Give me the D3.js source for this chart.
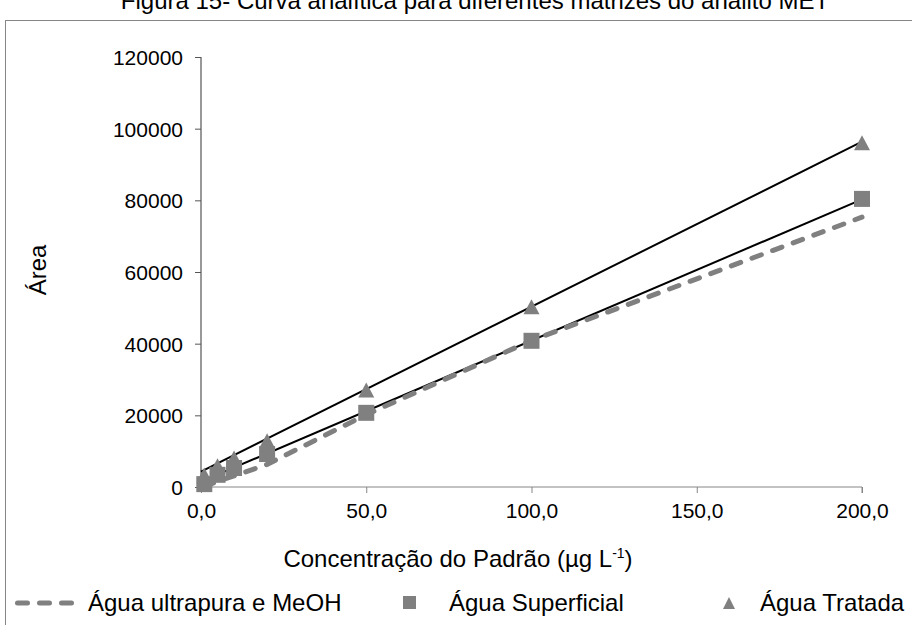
<!DOCTYPE html>
<html>
<head>
<meta charset="utf-8">
<script src="https://cdn.jsdelivr.net/npm/d3@7"></script>
<style>
  html, body { margin: 0; padding: 0; background: #fff; }
  svg { display: block; font-family: "Liberation Sans", Arial, sans-serif; }
</style>
</head>
<body>
<svg id="chart" width="912" height="625"></svg>
<script>
// Concentrations of the standard (µg L-1)
const concentrations = [1, 5, 10, 20, 50, 100, 200];
// Peak areas per matrix
const ultrapuraValues = [100, 1600, 3100, 6300, 20200, 40900, 75300];
const superficialValues = [800, 3400, 5300, 9200, 20700, 40800, 80400];
const tratadaValues = [3350, 5900, 8100, 12900, 27100, 50300, 96100];
// Least-squares lines drawn over the two marker series
const superficialFit = { intercept: 1480, slope: 394 };
const tratadaFit = { intercept: 4270, slope: 460.6 };

const xTicks = [0, 50, 100, 150, 200];
const yTicks = [0, 20000, 40000, 60000, 80000, 100000, 120000];

const title = "Figura 15- Curva analítica para diferentes matrizes do analito MET";
const seriesNames = ["Água ultrapura e MeOH", "Água Superficial", "Água Tratada"];

const svg = d3.select("#chart");
const grey = "#868686";
const markerGrey = "#808080";
const font = "Liberation Sans, Arial, sans-serif";

const plot = { left: 201, right: 862, top: 57, bottom: 487 };
const x = d3.scaleLinear().domain([0, 200]).range([plot.left, plot.right]);
const y = d3.scaleLinear().domain([0, 120000]).range([plot.bottom, plot.top]);

// Title (sits above the frame, partly outside the page)
svg.append("text")
  .attr("x", 475).attr("y", 9)
  .attr("text-anchor", "middle")
  .attr("font-size", 24)
  .attr("fill", "#000")
  .text(title);

// Chart frame
svg.append("rect")
  .attr("x", 5.5).attr("y", 20.5)
  .attr("width", 940).attr("height", 640)
  .attr("fill", "none")
  .attr("stroke", grey)
  .attr("stroke-width", 1);

// Y axis
const yAxis = d3.axisLeft(y).tickValues(yTicks).tickSize(6).tickPadding(12)
  .tickFormat(d3.format("d"));
const gy = svg.append("g").attr("transform", `translate(${plot.left},0)`).call(yAxis);
gy.select(".domain").attr("stroke", "#333").attr("d", `M0,${plot.top}V${plot.bottom}`);
gy.selectAll(".tick line").attr("stroke", "#555");
gy.selectAll(".tick text").attr("font-size", 21).attr("fill", "#000")
  .attr("font-family", font).attr("dy", "0.35em");

// X axis
const xAxis = d3.axisBottom(x).tickValues(xTicks).tickSize(6).tickPadding(0)
  .tickFormat(d => d3.format(".1f")(d).replace(".", ","));
const gx = svg.append("g").attr("transform", `translate(0,${plot.bottom})`).call(xAxis);
gx.select(".domain").attr("stroke", grey).attr("d", `M${plot.left},0H${plot.right}V6`);
gx.selectAll(".tick line").attr("stroke", grey);
gx.selectAll(".tick text").attr("font-size", 21).attr("fill", "#000")
  .attr("font-family", font).attr("dy", null).attr("y", 31);

// Axis titles
svg.append("text")
  .attr("transform", "translate(46,270) rotate(-90)")
  .attr("text-anchor", "middle")
  .attr("font-size", 24)
  .text("Área");

const xTitle = svg.append("text")
  .attr("x", 458).attr("y", 567)
  .attr("text-anchor", "middle")
  .attr("font-size", 24);
xTitle.append("tspan").text("Concentração do Padrão (µg L");
xTitle.append("tspan").attr("font-size", 14).attr("dy", -9).text("-1");
xTitle.append("tspan").attr("dy", 9).text(")");

// Fitted lines
const line = d3.line().x(d => x(d[0])).y(d => y(d[1]));
[superficialFit, tratadaFit].forEach(f => {
  svg.append("path")
    .attr("d", line([[0, f.intercept], [200, f.intercept + f.slope * 200]]))
    .attr("fill", "none").attr("stroke", "#000").attr("stroke-width", 2);
});

// Água ultrapura e MeOH: dashed polyline through its points
svg.append("path")
  .attr("d", line(concentrations.map((c, i) => [c, ultrapuraValues[i]])))
  .attr("fill", "none")
  .attr("stroke", markerGrey)
  .attr("stroke-width", 5)
  .attr("stroke-dasharray", "10,12")
  .attr("stroke-linecap", "round");

// Água Superficial: squares
const sq = 16;
svg.append("g").selectAll("rect")
  .data(concentrations.map((c, i) => [c, superficialValues[i]]))
  .join("rect")
  .attr("x", d => x(d[0]) - sq / 2).attr("y", d => y(d[1]) - sq / 2)
  .attr("width", sq).attr("height", sq)
  .attr("fill", markerGrey);

// Água Tratada: triangles, centred on their box like the squares
const triPath = (w, h) => `M0,${-h / 2}L${w / 2},${h / 2}L${-w / 2},${h / 2}Z`;
svg.append("g").selectAll("path")
  .data(concentrations.map((c, i) => [c, tratadaValues[i]]))
  .join("path")
  .attr("transform", d => `translate(${x(d[0])},${y(d[1])})`)
  .attr("d", triPath(16, 15))
  .attr("fill", markerGrey);

// Legend
const ly = 611;
const legend = svg.append("g");
legend.append("line")
  .attr("x1", 17.5).attr("x2", 71.5).attr("y1", ly - 8).attr("y2", ly - 8)
  .attr("stroke", markerGrey).attr("stroke-width", 5)
  .attr("stroke-dasharray", "10,12").attr("stroke-linecap", "round");
legend.append("text").attr("x", 88).attr("y", ly).attr("font-size", 24).text(seriesNames[0]);
legend.append("rect").attr("x", 403).attr("y", ly - 15).attr("width", 13).attr("height", 13)
  .attr("fill", markerGrey);
legend.append("text").attr("x", 449).attr("y", ly).attr("font-size", 24).text(seriesNames[1]);
legend.append("path")
  .attr("transform", `translate(729,${ly - 8})`)
  .attr("d", triPath(12, 12))
  .attr("fill", markerGrey);
legend.append("text").attr("x", 760).attr("y", ly).attr("font-size", 24).text(seriesNames[2]);
</script>
</body>
</html>
